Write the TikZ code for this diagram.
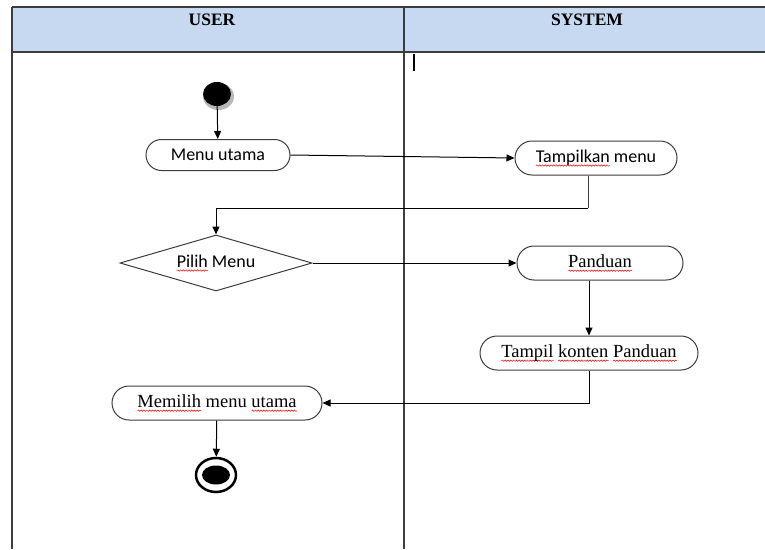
\documentclass[tikz,border=0pt]{standalone}
\usepackage{fontspec}
\setmainfont{Liberation Serif}
\newfontfamily\calibri{Carlito}
\usepackage{tikz}
\usetikzlibrary{arrows.meta, shapes.geometric, shapes.misc, decorations.pathmorphing}
\definecolor{hblue}{HTML}{C6D9F1}
\definecolor{lgray}{HTML}{3C3C3C}
\definecolor{sgray}{HTML}{B8B8B8}
% red wavy spelling mark
\newsavebox\typobox
\newcommand{\typo}[1]{\sbox\typobox{#1}\rlap{\tikz[baseline=0pt]\draw[red, line width=0.5pt, decorate,
  decoration={snake, amplitude=0.7pt, segment length=2.8pt}] (0pt,-3.5pt) -- (\the\wd\typobox,-3.5pt);}\usebox\typobox}

\tikzset{
  act/.style={rounded rectangle, draw=lgray, line width=1pt, inner sep=0pt,
    minimum height=34pt, font=\fontsize{18.5}{21}\selectfont},
  decide/.style={diamond, draw=lgray, line width=1pt, inner sep=0pt, aspect=3.4,
    minimum width=192pt, minimum height=56pt},
  flow/.style={draw=black, line width=1pt, -{Triangle[length=8pt, width=7pt]}},
  wire/.style={draw=lgray, line width=1pt},
  head/.style={font=\fontsize{17.5}{20}\selectfont\bfseries}
}

\begin{document}
\begin{tikzpicture}[x=1pt, y=-1pt]
  \useasboundingbox (0,0) rectangle (765,549);
  % swimlanes
  \fill[hblue] (12,7) rectangle (765,52);
  \draw[wire, line width=1.4pt] (12,7) -- (765,7);
  \draw[wire, line width=1.4pt] (12,52) -- (765,52);
  \draw[wire, line width=1.4pt] (12,7) -- (12,549);
  \draw[wire, line width=1.4pt] (404,7) -- (404,549);
  \node[head] (user) at (212,20) {USER};
  \node[head] (system) at (587,20) {SYSTEM};
  \draw[line width=2pt] (414,54) -- (414,71);

  % start
  \fill[sgray] (218.5,96.5) ellipse (15.5 and 13.5);
  \node[ellipse, fill=black, inner sep=0pt, minimum width=28pt, minimum height=24pt] (start) at (217,94) {};

  \node[act, minimum width=144pt, minimum height=31pt, font=\calibri\fontsize{18}{21}\selectfont] (menu) at (218,155) {Menu utama};
  \node[act, minimum width=162pt, font=\calibri\fontsize{18}{21}\selectfont] (tampil) at (596,158) {\typo{Tampilkan} menu};
  \node[decide, font=\calibri\fontsize{18}{21}\selectfont] (pilih) at (216,263) {\typo{Pilih} Menu};
  \node[act, minimum width=166pt] (panduan) at (600,263) {\typo{Panduan}};
  \node[act, minimum width=218pt] (konten) at (589,353) {\typo{Tampil} \typo{konten} \typo{Panduan}};
  \node[act, minimum width=210pt] (memilih) at (217,403) {\typo{Memilih} menu \typo{utama}};

  % end
  \node[ellipse, draw=black, line width=2.5pt, inner sep=0pt, minimum width=40pt, minimum height=34pt] (end) at (216,475) {};
  \fill (end.center) ellipse (14 and 9.5);

  \coordinate (turn1) at (588,208);
  \draw[flow] (start) -- (menu);
  \draw[flow] (menu.east) -- (tampil.west);
  \draw[wire] (tampil.south -| turn1) -- (turn1);
  \draw[flow] (turn1) -| (pilih.north);
  \draw[flow] (pilih.east) -- (panduan.west);
  \draw[flow] (panduan.south -| konten.north) -- (konten.north);
  \draw[flow] (konten.south) |- (memilih.east);
  \draw[flow] (memilih) -- (end);
\end{tikzpicture}
\end{document}
